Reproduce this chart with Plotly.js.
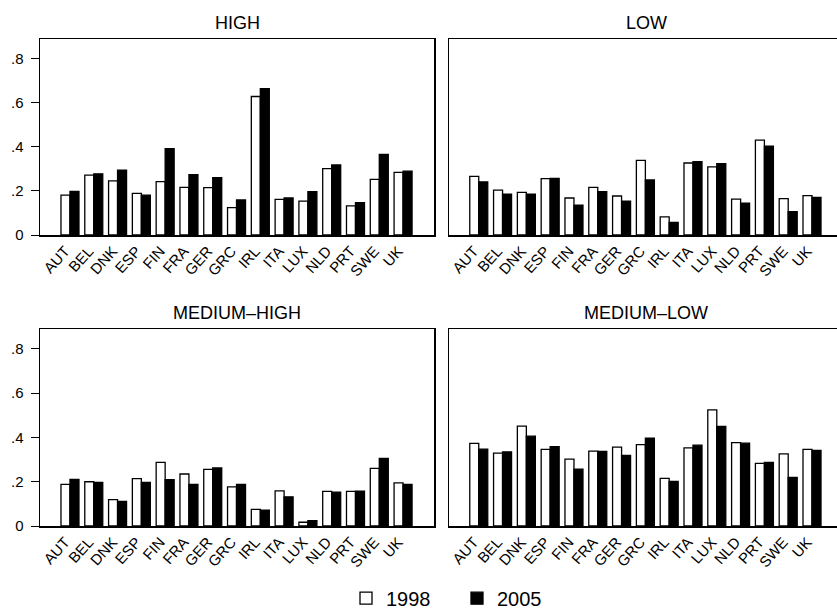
<!DOCTYPE html>
<html>
<head>
<meta charset="utf-8">
<script src="https://cdn.plot.ly/plotly-3.0.1.min.js"></script>
<style>html,body{margin:0;padding:0;background:#fff;}#chart{width:837px;height:614px;}</style>
</head>
<body>
<div id="chart"></div>
<script>
var countries = ['AUT','BEL','DNK','ESP','FIN','FRA','GER','GRC','IRL','ITA','LUX','NLD','PRT','SWE','UK'];
var panelTitles = ['HIGH','LOW','MEDIUM–HIGH','MEDIUM–LOW'];
var yearLabels = ['1998','2005'];

var high1998 = [0.181,0.272,0.246,0.189,0.242,0.216,0.215,0.124,0.629,0.162,0.154,0.301,0.132,0.253,0.284];
var high2005 = [0.198,0.278,0.295,0.181,0.392,0.274,0.260,0.159,0.665,0.168,0.197,0.318,0.147,0.366,0.290];
var low1998 = [0.266,0.204,0.194,0.256,0.168,0.216,0.177,0.339,0.082,0.327,0.309,0.163,0.431,0.165,0.179];
var low2005 = [0.241,0.185,0.185,0.257,0.136,0.197,0.154,0.250,0.057,0.333,0.324,0.145,0.404,0.106,0.171];
var medHigh1998 = [0.188,0.200,0.119,0.214,0.287,0.235,0.256,0.177,0.075,0.159,0.017,0.156,0.156,0.260,0.195];
var medHigh2005 = [0.211,0.197,0.111,0.197,0.209,0.188,0.262,0.188,0.072,0.132,0.024,0.153,0.158,0.305,0.188];
var medLow1998 = [0.373,0.329,0.451,0.346,0.302,0.338,0.356,0.368,0.215,0.353,0.525,0.377,0.283,0.326,0.346];
var medLow2005 = [0.347,0.335,0.406,0.358,0.257,0.337,0.319,0.397,0.202,0.365,0.450,0.374,0.287,0.220,0.341];

var series = [[high1998,high2005],[low1998,low2005],[medHigh1998,medHigh2005],[medLow1998,medLow2005]];
var W = 837, H = 614;
var FONT = 'Liberation Sans, Arial, sans-serif';

var xDom = [[40/W, 434/W],[449/W, 1]];
var yDom = [[1-235/H, 1-39/H],[1-526/H, 1-329/H]];
var xRanges = [[-1.26, 15.3],[-1.25, 15.05]];

var traces = [];
var layout = {
  width: W, height: H,
  margin: {l:0, r:0, t:0, b:0, autoexpand: false},
  paper_bgcolor: '#fff', plot_bgcolor: '#fff',
  font: {family: FONT, color: '#000'},
  barmode: 'group', bargap: 0.244, bargroupgap: 0,
  showlegend: true,
  legend: {orientation: 'h', x: 346/W, xanchor: 'left', y: -0.006, yanchor: 'bottom',
           font: {size: 20, family: FONT}, traceorder: 'normal', itemwidth: 30,
           entrywidth: 66, entrywidthmode: 'pixels'},
  annotations: []
};

for (var p = 0; p < 4; p++) {
  var col = p % 2, row = Math.floor(p / 2);
  var ax = p === 0 ? '' : String(p + 1);
  for (var s = 0; s < 2; s++) {
    traces.push({
      type: 'bar', x: countries, y: series[p][s], name: yearLabels[s],
      xaxis: 'x' + ax, yaxis: 'y' + ax,
      legendgroup: yearLabels[s], showlegend: p === 0,
      marker: {color: s === 0 ? '#ffffff' : '#000000', line: {color: '#000', width: 1.3}},
      hoverinfo: 'x+y'
    });
  }
  layout['xaxis' + ax] = {
    domain: xDom[col], anchor: 'y' + ax, type: 'category',
    range: xRanges[col], showline: true, mirror: true, linecolor: '#000', linewidth: 1.5,
    ticks: '', tickangle: -48, tickfont: {size: 15, family: FONT, color: '#000'},
    ticklabelshift: -5, automargin: false,
    showgrid: false, zeroline: false, fixedrange: true
  };
  layout['yaxis' + ax] = {
    domain: yDom[row], anchor: 'x' + ax, range: [0, 0.89],
    showline: true, mirror: true, linecolor: '#000', linewidth: 1.5,
    tickvals: [0, 0.2, 0.4, 0.6, 0.8], ticktext: ['0', '.2', '.4', '.6', '.8'],
    ticks: col === 0 ? 'outside' : '', ticklen: 8, tickcolor: '#000', tickwidth: 1,
    showticklabels: col === 0, tickfont: {size: 15, family: FONT, color: '#000'},
    ticklabelstandoff: 4, automargin: false,
    showgrid: false, zeroline: false, fixedrange: true
  };
  layout.annotations.push({
    text: panelTitles[p], xref: 'paper', yref: 'paper',
    x: (xDom[col][0] + (col === 0 ? xDom[col][1] : 843/W)) / 2,
    y: row === 0 ? 1 - 23/H : 1 - 313/H, xanchor: 'center', yanchor: 'middle',
    showarrow: false, font: {size: 18, family: FONT, color: '#000'}
  });
}

Plotly.newPlot('chart', traces, layout, {displayModeBar: false, staticPlot: true});
</script>
</body>
</html>
